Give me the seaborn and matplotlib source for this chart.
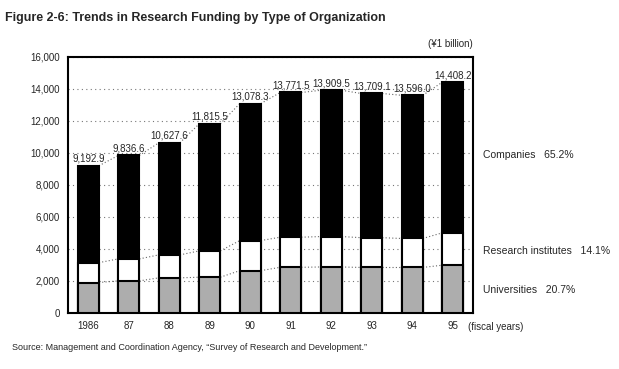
import pandas as pd
import seaborn as sns
import matplotlib.pyplot as plt
from matplotlib.ticker import FuncFormatter

years = ["1986", "87", "88", "89", "90", "91", "92", "93", "94", "95"]
totals = [9192.9, 9836.6, 10627.6, 11815.5, 13078.3, 13771.5, 13909.5, 13709.1, 13596.0, 14408.2]
universities = [1900, 2000, 2190, 2230, 2640, 2850, 2870, 2840, 2840, 2980]
institutes = [1240, 1375, 1435, 1645, 1880, 1880, 1900, 1860, 1810, 2020]
share_labels = ["Companies   65.2%", "Research institutes   14.1%", "Universities   20.7%"]

df = pd.DataFrame({"year": years, "total": totals, "univ": universities, "inst": institutes})
df["inst_top"] = df["univ"] + df["inst"]

sns.set_style("white")
plt.rcParams["font.family"] = ["Liberation Sans", "DejaVu Sans"]

fig = plt.figure(figsize=(6.19, 3.69), dpi=100)
ax = fig.add_axes([0.110, 0.152, 0.654, 0.694])

w = 0.52
# stacked look: draw tallest first, then overlay the lower segments
sns.barplot(data=df, x="year", y="total", color="black", width=w, edgecolor="black",
            linewidth=1.5, saturation=1, ax=ax, zorder=3)
sns.barplot(data=df, x="year", y="inst_top", color="white", width=w, edgecolor="black",
            linewidth=1.5, saturation=1, ax=ax, zorder=4)
sns.barplot(data=df, x="year", y="univ", color="#adadad", width=w, edgecolor="black",
            linewidth=1.5, saturation=1, ax=ax, zorder=5)

# dotted connectors between neighbouring bars
for col in ["total", "inst_top", "univ"]:
    vals = df[col].tolist()
    for i in range(len(vals) - 1):
        ax.plot([i + w / 2, i + 1 - w / 2], [vals[i], vals[i + 1]], ls=(0, (1, 2)),
                color="#666666", lw=0.8, zorder=2)

for i, v in enumerate(totals):
    ax.text(i, v + 120, f"{v:,.1f}", ha="center", va="bottom", fontsize=7, zorder=6)

ax.set_xlim(-0.5, 9.5)
ax.set_ylim(0, 16000)
ax.set_yticks(range(0, 16001, 2000))
ax.yaxis.set_major_formatter(FuncFormatter(lambda v, p: f"{int(v):,}"))
ax.yaxis.grid(True, ls=(0, (1, 3)), color="#777777", lw=0.8)
ax.set_axisbelow(True)
ax.tick_params(axis="both", length=0, labelsize=7, pad=6)
ax.set_xlabel("")
ax.set_ylabel("")
for s in ax.spines.values():
    s.set_linewidth(1.5)
    s.set_color("black")

ax.text(9.38, -560, "(fiscal years)", fontsize=7, va="top", ha="left")
ax.text(9.5, 16500, "(\u00a51 billion)", fontsize=7, ha="right", va="bottom")

fig.text(483 / 619, 1 - 155 / 369, share_labels[0], fontsize=7.5, va="center")
fig.text(483 / 619, 1 - 251 / 369, share_labels[1], fontsize=7.5, va="center")
fig.text(483 / 619, 1 - 290 / 369, share_labels[2], fontsize=7.5, va="center")

fig.text(5 / 619, 1 - 18 / 369, "Figure 2-6: Trends in Research Funding by Type of Organization",
         fontsize=9, fontweight="bold", va="center")
fig.text(12 / 619, 1 - 347 / 369,
         "Source: Management and Coordination Agency, \u201cSurvey of Research and Development.\u201d",
         fontsize=6.5, va="center")

fig.savefig("out.png", dpi=100)
